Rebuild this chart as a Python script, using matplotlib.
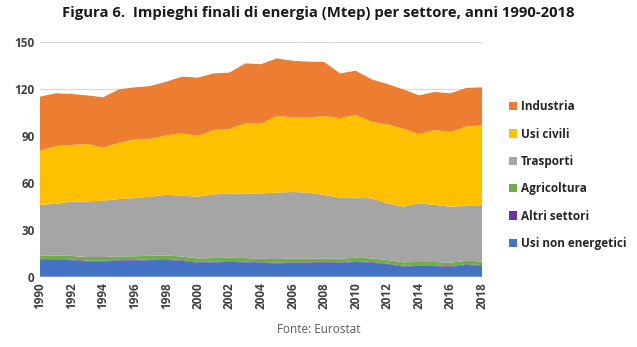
import numpy as np
import matplotlib
matplotlib.use('Agg')
import matplotlib.pyplot as plt
from matplotlib.patches import Patch

# Impieghi finali di energia per settore (Mtep), 1990-2018
anni = list(range(1990, 2019))

usi_non_energetici = [11.0, 10.8, 10.6, 9.8, 9.8, 10.2, 10.3, 10.6, 10.8, 10.2,
                      9.0, 9.2, 9.5, 9.2, 8.8, 8.6, 8.8, 8.8, 9.0, 8.8,
                      9.5, 9.0, 8.0, 6.6, 6.9, 6.8, 6.3, 7.6, 7.0]
altri_settori = [0.4] * 29
agricoltura = [2.3, 2.3, 2.3, 2.4, 2.4, 2.4, 2.4, 2.4, 2.4, 2.3,
               2.3, 2.3, 2.3, 2.3, 2.3, 2.3, 2.4, 2.3, 2.3, 2.3,
               2.3, 2.3, 2.2, 2.2, 2.1, 2.2, 2.3, 2.2, 2.3]
trasporti = [32.2, 33.2, 34.7, 35.6, 36.0, 36.7, 37.2, 37.8, 38.9, 38.9,
             39.5, 40.8, 40.9, 41.4, 41.8, 42.5, 42.6, 42.3, 40.6, 39.1,
             38.4, 38.4, 36.4, 35.6, 37.6, 36.5, 35.8, 35.0, 36.2]
usi_civili = [34.7, 36.9, 36.3, 36.7, 34.0, 36.0, 37.6, 37.1, 38.0, 40.0,
              38.9, 41.2, 41.4, 44.9, 44.7, 49.0, 47.8, 48.0, 50.5, 50.9,
              52.9, 49.1, 50.5, 49.9, 44.3, 48.0, 47.8, 50.8, 51.2]
industria = [34.6, 33.8, 32.6, 31.1, 32.2, 34.2, 33.3, 33.7, 34.3, 36.2,
             37.3, 36.2, 36.1, 38.3, 38.0, 36.9, 36.2, 35.8, 34.6, 28.6,
             28.3, 27.1, 25.8, 25.2, 24.8, 24.3, 24.8, 24.8, 24.1]

serie = [usi_non_energetici, altri_settori, agricoltura, trasporti, usi_civili, industria]
nomi = ['Usi non energetici', 'Altri settori', 'Agricoltura', 'Trasporti', 'Usi civili', 'Industria']
colori = ['#4472C4', '#7030A0', '#70AD47', '#A5A5A5', '#FFC000', '#ED7D31']

plt.rcParams['font.family'] = ['Open Sans', 'DejaVu Sans']

fig = plt.figure(figsize=(6.37, 3.47), dpi=100)
ax = fig.add_axes([0.0628, 0.2026, 0.694, 0.6755])

ax.stackplot(anni, *serie, colors=colori, linewidth=0)

ax.set_xlim(1990, 2018)
ax.set_ylim(0, 150)
ax.set_yticks(range(0, 151, 30))
ax.set_xticks(anni[::2])
ax.set_xticklabels([str(a) for a in anni[::2]], rotation=90, fontsize=8.5,
                   fontweight='bold', color='#404040')
for t in ax.get_yticklabels():
    t.set_fontsize(8.5)
    t.set_fontweight('bold')
    t.set_color('#404040')
ax.tick_params(length=0, pad=4)
ax.grid(axis='y', color='#D9D9D9', linewidth=0.9)
ax.set_axisbelow(True)
for s in ax.spines.values():
    s.set_visible(False)

# legenda a destra, ordine dall'alto
handles = [Patch(facecolor=c, label=n) for c, n in zip(colori[::-1], nomi[::-1])]
fig.legend(handles=handles, loc='upper left', bbox_to_anchor=(0.782, 0.742),
           frameon=False, prop={'weight': 'bold', 'size': 8.5},
           handlelength=0.7, handleheight=0.7, handletextpad=0.3,
           labelspacing=1.22, labelcolor='#262626')

fig.text(0.5, 0.962, 'Figura 6.  Impieghi finali di energia (Mtep) per settore, anni 1990-2018',
         ha='center', va='center', fontsize=10.7, fontweight='bold', color='#1a1a1a')
fig.text(0.5, 0.05, 'Fonte: Eurostat', ha='center', va='center', fontsize=8.5, color='#595959')

fig.savefig('out.png', dpi=100)
